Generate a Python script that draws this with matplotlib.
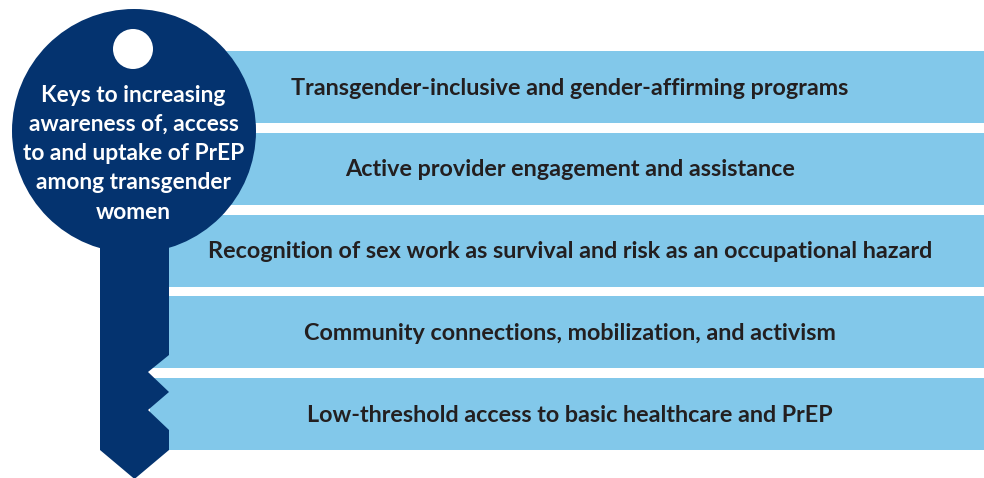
import matplotlib
matplotlib.use("Agg")
import matplotlib.pyplot as plt
from matplotlib.patches import Rectangle, Circle, Polygon

plt.rcParams["font.family"] = ["Lato", "DejaVu Sans"]

# ---- content ----
KEY_TEXT = ["Keys to increasing", "awareness of, access", "to and uptake of PrEP",
            "among transgender", "women"]
BAR_LABELS = [
    "Transgender-inclusive and gender-affirming programs",
    "Active provider engagement and assistance",
    "Recognition of sex work as survival and risk as an occupational hazard",
    "Community connections, mobilization, and activism",
    "Low-threshold access to basic healthcare and PrEP",
]
BAR_LEFT = [220, 150, 150, 150, 150]   # first bar starts right of the key head

NAVY = "#04336f"
LIGHT = "#82c8ea"
TXT = "#231f20"

W, H = 984, 478
fig = plt.figure(figsize=(W / 100, H / 100), dpi=100)
ax = fig.add_axes([0, 0, 1, 1])
ax.set_xlim(0, W)
ax.set_ylim(H, 0)
ax.axis("off")

# bars
top0, step, bh = 51, 81.8, 72
for i, (lab, x0) in enumerate(zip(BAR_LABELS, BAR_LEFT)):
    y = top0 + i * step
    ax.add_patch(Rectangle((x0, y), W - x0, bh, color=LIGHT, lw=0, zorder=1))
    ax.text(570, y + bh / 2 + 1, lab, ha="center", va="center", fontsize=16.8,
            fontweight="bold", color=TXT, zorder=3)

# key: head + shaft with notches
cx, cy, r = 134, 131, 122
ax.add_patch(Circle((cx, cy), r, color=NAVY, lw=0, zorder=2))
shaft = [(100, 230), (169, 230), (169, 355), (148, 372), (169, 392),
         (148, 410), (169, 430), (169, 450), (134.5, 479), (100, 450)]
ax.add_patch(Polygon(shaft, closed=True, color=NAVY, lw=0, zorder=2))
ax.add_patch(Circle((133, 49), 20, color="white", lw=0, zorder=3))

for j, line in enumerate(KEY_TEXT):
    ax.text(133.5, 95 + j * 29.3, line, ha="center", va="center", fontsize=16.4,
            fontweight="bold", color="white", zorder=4)

fig.savefig("out.png", dpi=100)
